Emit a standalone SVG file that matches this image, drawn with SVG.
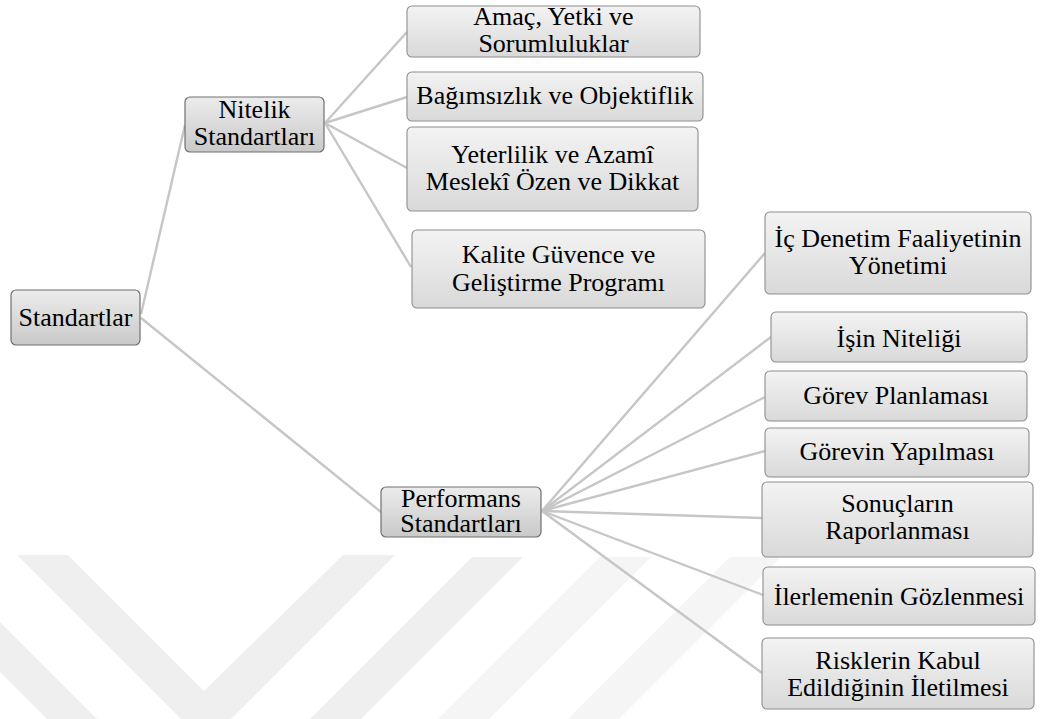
<svg xmlns="http://www.w3.org/2000/svg" width="1042" height="719" viewBox="0 0 1042 719">
<defs>
<linearGradient id="gMain" x1="0" y1="0" x2="0" y2="1">
<stop offset="0" stop-color="#ececec"/>
<stop offset="1" stop-color="#c9c9c9"/>
</linearGradient>
<linearGradient id="gLeaf" x1="0" y1="0" x2="0" y2="1">
<stop offset="0" stop-color="#f3f3f3"/>
<stop offset="1" stop-color="#d9d9d9"/>
</linearGradient>
</defs>
<rect width="1042" height="719" fill="#ffffff"/>
<g id="watermark">
<polygon fill="#efefef" points="17,555 68,555 204,691 343,555 395,555 231,719 181,719"/>
<polygon fill="#efefef" points="0,622 97,719 47,719 0,672"/>
<polygon fill="#efefef" points="472,557 523,557 361,719 310,719"/>
<polygon fill="#f5f5f5" points="600,557 651,557 489,719 438,719"/>
<polygon fill="#f5f5f5" points="730,557 781,557 619,719 568,719"/>
</g>
<g id="connectors" stroke="#c6c6c6" stroke-width="2.4" fill="none">
<line x1="141" y1="314" x2="185" y2="125"/>
<line x1="141" y1="318" x2="381" y2="512"/>
<line x1="325" y1="123" x2="407" y2="32"/>
<line x1="325" y1="123" x2="407" y2="97"/>
<line x1="325" y1="123" x2="407" y2="168"/>
<line x1="325" y1="123" x2="411" y2="267"/>
<line x1="542" y1="511" x2="765" y2="253"/>
<line x1="542" y1="511" x2="771" y2="337"/>
<line x1="542" y1="511" x2="765" y2="397"/>
<line x1="542" y1="511" x2="765" y2="451"/>
<line x1="542" y1="511" x2="762" y2="518"/>
<line x1="542" y1="511" x2="763" y2="595"/>
<line x1="542" y1="511" x2="762" y2="673"/>
</g>
<g id="standartlar">
<rect fill="url(#gMain)" stroke="#707070" stroke-width="1.2" x="11" y="290" width="129" height="55" rx="5"/>
<text font-family="Liberation Serif" font-size="26" text-anchor="middle" x="75.5" y="326">Standartlar</text>
</g>
<g id="nitelik">
<rect fill="url(#gMain)" stroke="#707070" stroke-width="1.2" x="185" y="97" width="139" height="55" rx="5"/>
<text font-family="Liberation Serif" font-size="26" text-anchor="middle" x="254.5" y="118">Nitelik</text>
<text font-family="Liberation Serif" font-size="26" text-anchor="middle" x="254.5" y="145">Standartları</text>
</g>
<g id="performans">
<rect fill="url(#gMain)" stroke="#707070" stroke-width="1.2" x="381" y="487" width="160" height="50" rx="5"/>
<text font-family="Liberation Serif" font-size="26" text-anchor="middle" x="461" y="507">Performans</text>
<text font-family="Liberation Serif" font-size="26" text-anchor="middle" x="461" y="532">Standartları</text>
</g>
<g id="amac">
<rect fill="url(#gLeaf)" stroke="#8e8e8e" stroke-width="1.1" x="407" y="6" width="293" height="51" rx="5"/>
<text font-family="Liberation Serif" font-size="26" text-anchor="middle" x="553.5" y="25">Amaç, Yetki ve</text>
<text font-family="Liberation Serif" font-size="26" text-anchor="middle" x="553.5" y="52">Sorumluluklar</text>
</g>
<g id="bagimsizlik">
<rect fill="url(#gLeaf)" stroke="#8e8e8e" stroke-width="1.1" x="407" y="72" width="296" height="49" rx="5"/>
<text font-family="Liberation Serif" font-size="26" text-anchor="middle" x="555" y="104">Bağımsızlık ve Objektiflik</text>
</g>
<g id="yeterlilik">
<rect fill="url(#gLeaf)" stroke="#8e8e8e" stroke-width="1.1" x="407" y="127" width="291" height="84" rx="5"/>
<text font-family="Liberation Serif" font-size="26" text-anchor="middle" x="552.5" y="163">Yeterlilik ve Azamî</text>
<text font-family="Liberation Serif" font-size="26" text-anchor="middle" x="552.5" y="190">Meslekî Özen ve Dikkat</text>
</g>
<g id="kalite">
<rect fill="url(#gLeaf)" stroke="#8e8e8e" stroke-width="1.1" x="412" y="230" width="293" height="78" rx="5"/>
<text font-family="Liberation Serif" font-size="26" text-anchor="middle" x="558.5" y="263">Kalite Güvence ve</text>
<text font-family="Liberation Serif" font-size="26" text-anchor="middle" x="558.5" y="291">Geliştirme Programı</text>
</g>
<g id="ic-denetim">
<rect fill="url(#gLeaf)" stroke="#8e8e8e" stroke-width="1.1" x="765" y="212" width="266" height="82" rx="5"/>
<text font-family="Liberation Serif" font-size="26" text-anchor="middle" x="898" y="247">İç Denetim Faaliyetinin</text>
<text font-family="Liberation Serif" font-size="26" text-anchor="middle" x="898" y="274">Yönetimi</text>
</g>
<g id="isin-niteligi">
<rect fill="url(#gLeaf)" stroke="#8e8e8e" stroke-width="1.1" x="771" y="312" width="256" height="50" rx="5"/>
<text font-family="Liberation Serif" font-size="26" text-anchor="middle" x="899" y="347">İşin Niteliği</text>
</g>
<g id="gorev-planlamasi">
<rect fill="url(#gLeaf)" stroke="#8e8e8e" stroke-width="1.1" x="765" y="371" width="262" height="50" rx="5"/>
<text font-family="Liberation Serif" font-size="26" text-anchor="middle" x="896" y="404">Görev Planlaması</text>
</g>
<g id="gorevin-yapilmasi">
<rect fill="url(#gLeaf)" stroke="#8e8e8e" stroke-width="1.1" x="765" y="428" width="264" height="49" rx="5"/>
<text font-family="Liberation Serif" font-size="26" text-anchor="middle" x="897" y="460">Görevin Yapılması</text>
</g>
<g id="sonuclarin">
<rect fill="url(#gLeaf)" stroke="#8e8e8e" stroke-width="1.1" x="762" y="482" width="271" height="75" rx="5"/>
<text font-family="Liberation Serif" font-size="26" text-anchor="middle" x="897.5" y="512">Sonuçların</text>
<text font-family="Liberation Serif" font-size="26" text-anchor="middle" x="897.5" y="539">Raporlanması</text>
</g>
<g id="ilerlemenin">
<rect fill="url(#gLeaf)" stroke="#8e8e8e" stroke-width="1.1" x="763" y="567" width="272" height="58" rx="5"/>
<text font-family="Liberation Serif" font-size="26" text-anchor="middle" x="899" y="605">İlerlemenin Gözlenmesi</text>
</g>
<g id="risklerin">
<rect fill="url(#gLeaf)" stroke="#8e8e8e" stroke-width="1.1" x="762" y="638" width="272" height="71" rx="5"/>
<text font-family="Liberation Serif" font-size="26" text-anchor="middle" x="898" y="669">Risklerin Kabul</text>
<text font-family="Liberation Serif" font-size="26" text-anchor="middle" x="898" y="696">Edildiğinin İletilmesi</text>
</g>
</svg>
